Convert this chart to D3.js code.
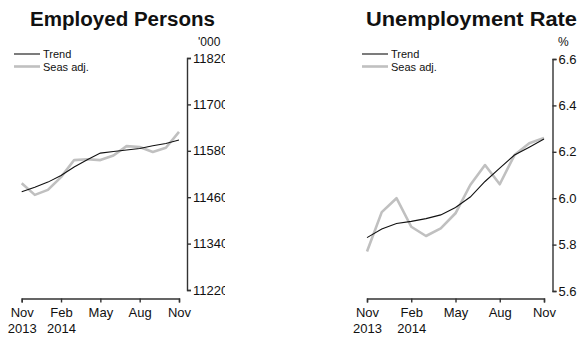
<!DOCTYPE html>
<html>
<head>
<meta charset="utf-8">
<script src="https://cdn.jsdelivr.net/npm/d3@7"></script>
<style>
  html, body { margin: 0; padding: 0; background: #fff; }
  svg { display: block; }
  text { font-family: "Liberation Sans", Arial, sans-serif; fill: #111; }
</style>
</head>
<body>
<svg id="chart" width="588" height="337"></svg>
<script>
// ---- Data ----
const months = ["Nov 2013","Dec 2013","Jan 2014","Feb 2014","Mar 2014","Apr 2014","May 2014",
                "Jun 2014","Jul 2014","Aug 2014","Sep 2014","Oct 2014","Nov 2014"];
const xTickIndex = [0, 3, 6, 9, 12];
const xTickLabels = [["Nov","2013"],["Feb","2014"],["May"],["Aug"],["Nov"]];

const empTrend = [11474,11486,11499,11516,11538,11557,11574,11578,11582,11586,11593,11599,11608];
const empSeasAdj = [11496,11466,11479,11512,11556,11558,11556,11568,11592,11590,11577,11588,11629];
const empTicks = [11220,11340,11460,11580,11700,11820];

const unTrend = [5.83,5.867,5.891,5.90,5.912,5.928,5.96,6.005,6.072,6.13,6.186,6.22,6.255];
const unSeasAdj = [5.77,5.94,6.00,5.877,5.837,5.87,5.935,6.057,6.143,6.06,6.186,6.237,6.26];
const unTicks = [5.6,5.8,6.0,6.2,6.4,6.6];

const legendLabels = ["Trend","Seas adj."];

// ---- Layout ----
const svg = d3.select("#chart");
const panels = [
  { title: "Employed Persons", titleX: 30, titleW: 185, unit: "'000", unitX: 198,
    x0: 21.7, x1: 179, yAxisX: 187, yTop: 58, yBot: 290, clipR: 225,
    ticks: empTicks, trend: empTrend, sa: empSeasAdj, fmt: d3.format("d"),
    legX: 14 },
  { title: "Unemployment Rate", titleX: 366, titleW: 211, unit: "%", unitX: 558,
    x0: 367, x1: 544, yAxisX: 552.5, yTop: 59, yBot: 291, clipR: 588,
    ticks: unTicks, trend: unTrend, sa: unSeasAdj, fmt: d3.format(".1f"),
    legX: 362 }
];
const xAxisY = 298.5;

panels.forEach((p, i) => {
  const clipId = "clip" + i;
  svg.append("clipPath").attr("id", clipId)
    .append("rect").attr("x", i === 0 ? 0 : 300).attr("y", 0)
    .attr("width", i === 0 ? p.clipR : 288).attr("height", 337);
  const g = svg.append("g").attr("clip-path", `url(#${clipId})`);

  const x = d3.scaleLinear().domain([0, months.length - 1]).range([p.x0, p.x1]);
  const y = d3.scaleLinear().domain([p.ticks[0], p.ticks[p.ticks.length - 1]]).range([p.yBot, p.yTop]);

  // Title
  g.append("text").attr("x", p.titleX).attr("y", 26)
    .attr("font-size", 19.5).attr("font-weight", "bold")
    .attr("textLength", p.titleW).attr("lengthAdjust", "spacingAndGlyphs")
    .text(p.title);

  // Unit label
  g.append("text").attr("x", p.unitX).attr("y", 46).attr("font-size", 12).text(p.unit);

  // Y axis (right)
  const yAxis = g.append("g").attr("transform", `translate(${p.yAxisX},0)`)
    .call(d3.axisRight(y).tickValues(p.ticks).tickSize(4).tickSizeOuter(4).tickPadding(2).tickFormat(p.fmt));
  yAxis.selectAll("path, line").attr("stroke", "#333").attr("stroke-width", 1.4);
  yAxis.selectAll("text").attr("font-size", 13).attr("fill", "#111")
    .attr("font-family", "'Liberation Sans', Arial, sans-serif");

  // X axis
  const xAxis = g.append("g").attr("transform", `translate(0,${xAxisY})`)
    .call(d3.axisBottom(x).tickValues(xTickIndex).tickSize(4).tickSizeOuter(4).tickFormat(""));
  xAxis.selectAll("path, line").attr("stroke", "#333").attr("stroke-width", 1.4);
  xAxis.selectAll(".tick").each(function(d, k) {
    const t = d3.select(this).append("text").attr("text-anchor", "middle")
      .attr("font-size", 13).attr("fill", "#111")
      .attr("font-family", "'Liberation Sans', Arial, sans-serif");
    xTickLabels[k].forEach((s, j) => {
      t.append("tspan").attr("x", 0).attr("y", 18.5 + j * 16).text(s);
    });
  });

  // Lines
  const line = d3.line().x((d, k) => x(k)).y(d => y(d));
  g.append("path").datum(p.sa).attr("d", line)
    .attr("fill", "none").attr("stroke", "#c0c0c0").attr("stroke-width", 2.6)
    .attr("stroke-linejoin", "round");
  g.append("path").datum(p.trend).attr("d", line)
    .attr("fill", "none").attr("stroke", "#111").attr("stroke-width", 1.1);

  // Legend
  const leg = g.append("g");
  const styles = [{c: "#111", w: 1.1}, {c: "#c0c0c0", w: 2.6}];
  legendLabels.forEach((lab, k) => {
    const ly = 54 + k * 12.5;
    leg.append("line").attr("x1", p.legX).attr("x2", p.legX + 26)
      .attr("y1", ly).attr("y2", ly)
      .attr("stroke", styles[k].c).attr("stroke-width", styles[k].w);
    leg.append("text").attr("x", p.legX + 29).attr("y", ly + 4)
      .attr("font-size", 11).text(lab);
  });
});
</script>
</body>
</html>
